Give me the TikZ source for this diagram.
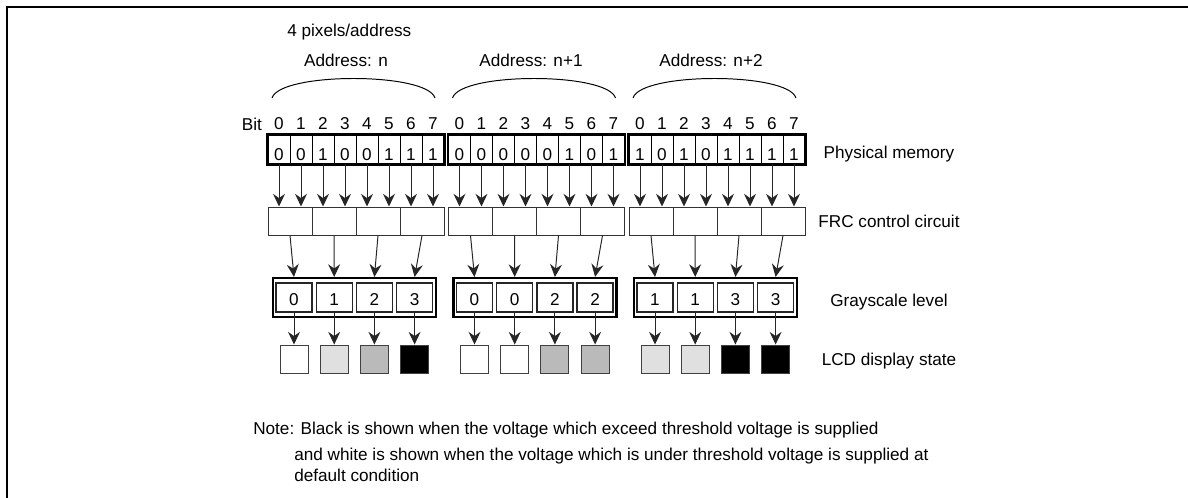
\documentclass[tikz,border=0pt]{standalone}
\usepackage{fontspec}
\setmainfont{Liberation Sans}
\usetikzlibrary{arrows.meta}
\colorlet{lvl0}{white}
\colorlet{lvl1}{black!12}
\colorlet{lvl2}{black!27}
\colorlet{lvl3}{black}

\begin{document}
\begin{tikzpicture}[x=0.025cm, y=-0.025cm, font=\fontsize{12.2}{14}\selectfont,
  memcell/.style={draw, line width=0.7pt, minimum width=0.55cm, minimum height=0.725cm, inner sep=0pt, text height=15pt, text depth=0pt},
  frccell/.style={draw=black!80, line width=0.7pt, minimum width=1.1cm, minimum height=0.7cm, inner sep=0pt},
  graybox/.style={draw, line width=1.5pt, minimum width=4.075cm, minimum height=0.975cm, inner sep=0pt},
  graycell/.style={draw=black!85, line width=0.9pt, minimum width=0.9cm, minimum height=0.725cm, inner sep=0pt, text height=12pt, text depth=0pt},
  lcdsq/.style={draw=black!75, line width=0.7pt, minimum size=0.7cm, inner sep=0pt},
  arr/.style={-{Stealth[length=9pt,width=8.5pt,inset=3pt]}, line width=0.7pt, draw=black!85},
  lbl/.style={inner sep=0pt}
]
  \useasboundingbox (0,0) rectangle (1188,498);
  \draw[line width=1.5pt] (7,498) -- (7,7) -- (1188,7);

  %% Header
  \node[lbl, anchor=base west] (ppa) at (287,37) {4 pixels/address};
  \node[lbl, anchor=base] (adr0) at (346,67) {Address: n};
  \node[lbl, anchor=base] (adr1) at (531,67) {Address: n+1};
  \node[lbl, anchor=base] (adr2) at (711,67) {Address: n+2};
  \node[lbl] (bit) at (252,124) {Bit};

  %% Three addresses
  \foreach \g/\bits/\lev in {0/{0,0,1,0,0,1,1,1}/{0,1,2,3}, 1/{0,0,0,0,0,1,0,1}/{0,0,2,2}, 2/{1,0,1,0,1,1,1,1}/{1,1,3,3}} {
    \pgfmathsetmacro\ox{180.5*\g}
    \draw[line width=0.7pt] (272+\ox,98) .. controls (280+\ox,72) and (427+\ox,72) .. (435+\ox,98);
    %% Physical memory
    \foreach \b [count=\k from 0] in \bits {
      \node[memcell] (m-\g-\k) at (279+\ox+22*\k,149.5) {\b};
      \node[lbl] (b-\g-\k) at (279+\ox+22*\k,124) {\k};
    }
    \draw[line width=1.5pt] (m-\g-0.north west) rectangle (m-\g-7.south east);
    %% FRC control circuit
    \foreach \j in {0,...,3}
      \node[frccell] (f-\g-\j) at (290+\ox+44*\j,221) {};
    \foreach \k in {0,...,7} {
      \pgfmathtruncatemacro\j{int(\k/2)}
      \draw[arr] (m-\g-\k.south) -- (m-\g-\k.south |- f-\g-\j.north);
    }
    %% Grayscale level and LCD display state
    \node[graybox] (gb-\g) at (354.5+\ox,297.5) {};
    \foreach \v [count=\j from 0] in \lev {
      \node[graycell] (gl-\g-\j) at (294+\ox+40.2*\j,297.5) {\v};
      \node[lcdsq, fill=lvl\v] (d-\g-\j) at (294+\ox+40.2*\j,359) {};
      \draw[arr] (f-\g-\j.south) -- (gl-\g-\j |- gb-\g.north);
      \draw[arr] (gl-\g-\j.south) -- (d-\g-\j.north);
    }
  }

  %% Row labels
  \node[lbl, anchor=base] (pm) at (889,159) {Physical memory};
  \node[lbl, anchor=base] (frc) at (889,228) {FRC control circuit};
  \node[lbl, anchor=base] (gsl) at (889,306) {Grayscale level};
  \node[lbl, anchor=base] (lcd) at (889,365) {LCD display state};

  %% Note
  \node[lbl, anchor=base west] (note1) at (253,434) {Note: Black is shown when the voltage which exceed threshold voltage is supplied};
  \node[lbl, anchor=base west] (note2) at (294,460) {and white is shown when the voltage which is under threshold voltage is supplied at};
  \node[lbl, anchor=base west] (note3) at (294,481) {default condition};
\end{tikzpicture}
\end{document}
